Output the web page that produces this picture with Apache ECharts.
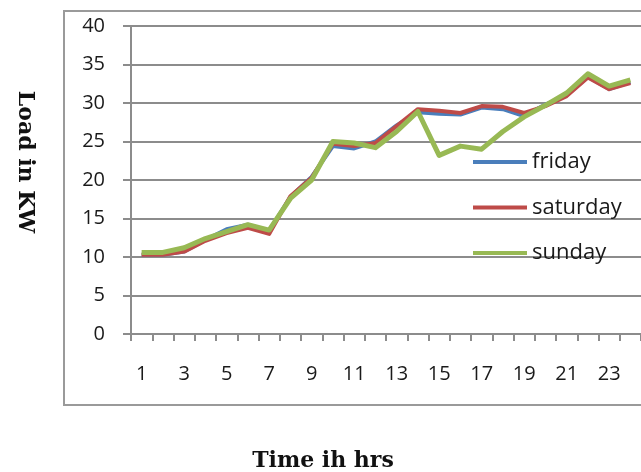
<!DOCTYPE html>
<html>
<head>
<meta charset="utf-8">
<script src="https://cdn.jsdelivr.net/npm/echarts@6/dist/echarts.min.js"></script>
<style>
  html, body { margin: 0; padding: 0; background: #fff; }
  #chart { width: 641px; height: 472px; }
</style>
</head>
<body>
<div id="chart"></div>
<script>
// Hourly load profile for three days
const hours = ['1','2','3','4','5','6','7','8','9','10','11','12','13','14','15','16','17','18','19','20','21','22','23','24'];
const friday   = [10.3, 10.3, 10.7, 12.2, 13.6, 14.2, 13.4, 17.8, 20.4, 24.4, 24.1, 25.0, 27.1, 28.8, 28.6, 28.5, 29.4, 29.2, 28.3, 29.8, 31.0, 33.4, 31.8, 32.7];
const saturday = [10.3, 10.3, 10.7, 12.1, 13.1, 13.8, 13.0, 17.9, 20.3, 24.7, 24.4, 24.8, 27.0, 29.2, 29.0, 28.7, 29.6, 29.5, 28.7, 29.6, 30.9, 33.3, 31.8, 32.6];
const sunday   = [10.6, 10.6, 11.2, 12.4, 13.3, 14.2, 13.5, 17.6, 20.0, 25.0, 24.8, 24.2, 26.3, 28.9, 23.2, 24.4, 24.0, 26.3, 28.2, 29.7, 31.3, 33.8, 32.2, 33.0];
const seriesNames = ['friday', 'saturday', 'sunday'];
const yAxisTitle = 'Load in KW';
const xAxisTitle = 'Time ih hrs';

const colors = ['#4a7ebb', '#be4b48', '#98b954'];
const gray = '#8c8c8c';
const tickFont = '"Open Sans", sans-serif';
const titleFont = '"DejaVu Serif", serif';

const chart = echarts.init(document.getElementById('chart'), null, { renderer: 'canvas' });

function lineSeries(name, data, color, width) {
  return {
    name: name,
    type: 'line',
    data: data,
    symbol: 'none',
    smooth: false,
    lineStyle: { color: color, width: width, join: 'round' },
    itemStyle: { color: color },
    animation: false
  };
}

chart.setOption({
  backgroundColor: '#ffffff',
  animation: false,
  grid: { left: 131, top: 26, width: 519.6, height: 308, containLabel: false },
  legend: {
    orient: 'vertical',
    left: 473,
    top: 150,
    padding: 0,
    itemWidth: 54,
    itemHeight: 4,
    itemGap: 21.5,
    icon: 'rect',
    data: seriesNames,
    textStyle: { fontFamily: tickFont, fontSize: 22, color: '#1a1a1a', lineHeight: 24 }
  },
  xAxis: {
    type: 'category',
    data: hours,
    boundaryGap: true,
    axisLine: { show: true, lineStyle: { color: gray, width: 2 } },
    axisTick: { show: true, interval: 0, length: 7, lineStyle: { color: gray, width: 2 } },
    axisLabel: { interval: 1, margin: 30, fontFamily: tickFont, fontSize: 20, color: '#1a1a1a' },
    splitLine: { show: false }
  },
  yAxis: {
    type: 'value',
    min: 0,
    max: 40,
    interval: 5,
    axisLine: { show: true, lineStyle: { color: gray, width: 2 } },
    axisTick: { show: true, length: 8, lineStyle: { color: gray, width: 2 } },
    axisLabel: { margin: 26, fontFamily: tickFont, fontSize: 20, color: '#1a1a1a' },
    splitLine: { show: true, lineStyle: { color: gray, width: 2 } }
  },
  graphic: [
    {
      type: 'rect',
      shape: { x: 64, y: 11, width: 620, height: 394 },
      style: { fill: 'none', stroke: '#9a9a9a', lineWidth: 2 },
      silent: true,
      z: -1
    },
    {
      type: 'text',
      x: 25,
      y: 162,
      rotation: -Math.PI / 2,
      style: {
        text: yAxisTitle,
        font: 'bold 22px ' + titleFont,
        fill: '#111',
        align: 'center',
        verticalAlign: 'middle'
      }
    },
    {
      type: 'text',
      x: 323,
      y: 461,
      style: {
        text: xAxisTitle,
        font: 'bold 22px ' + titleFont,
        fill: '#111',
        align: 'center',
        verticalAlign: 'middle'
      }
    }
  ],
  series: [
    lineSeries(seriesNames[0], friday, colors[0], 4),
    lineSeries(seriesNames[1], saturday, colors[1], 4),
    lineSeries(seriesNames[2], sunday, colors[2], 5)
  ]
});
</script>
</body>
</html>
